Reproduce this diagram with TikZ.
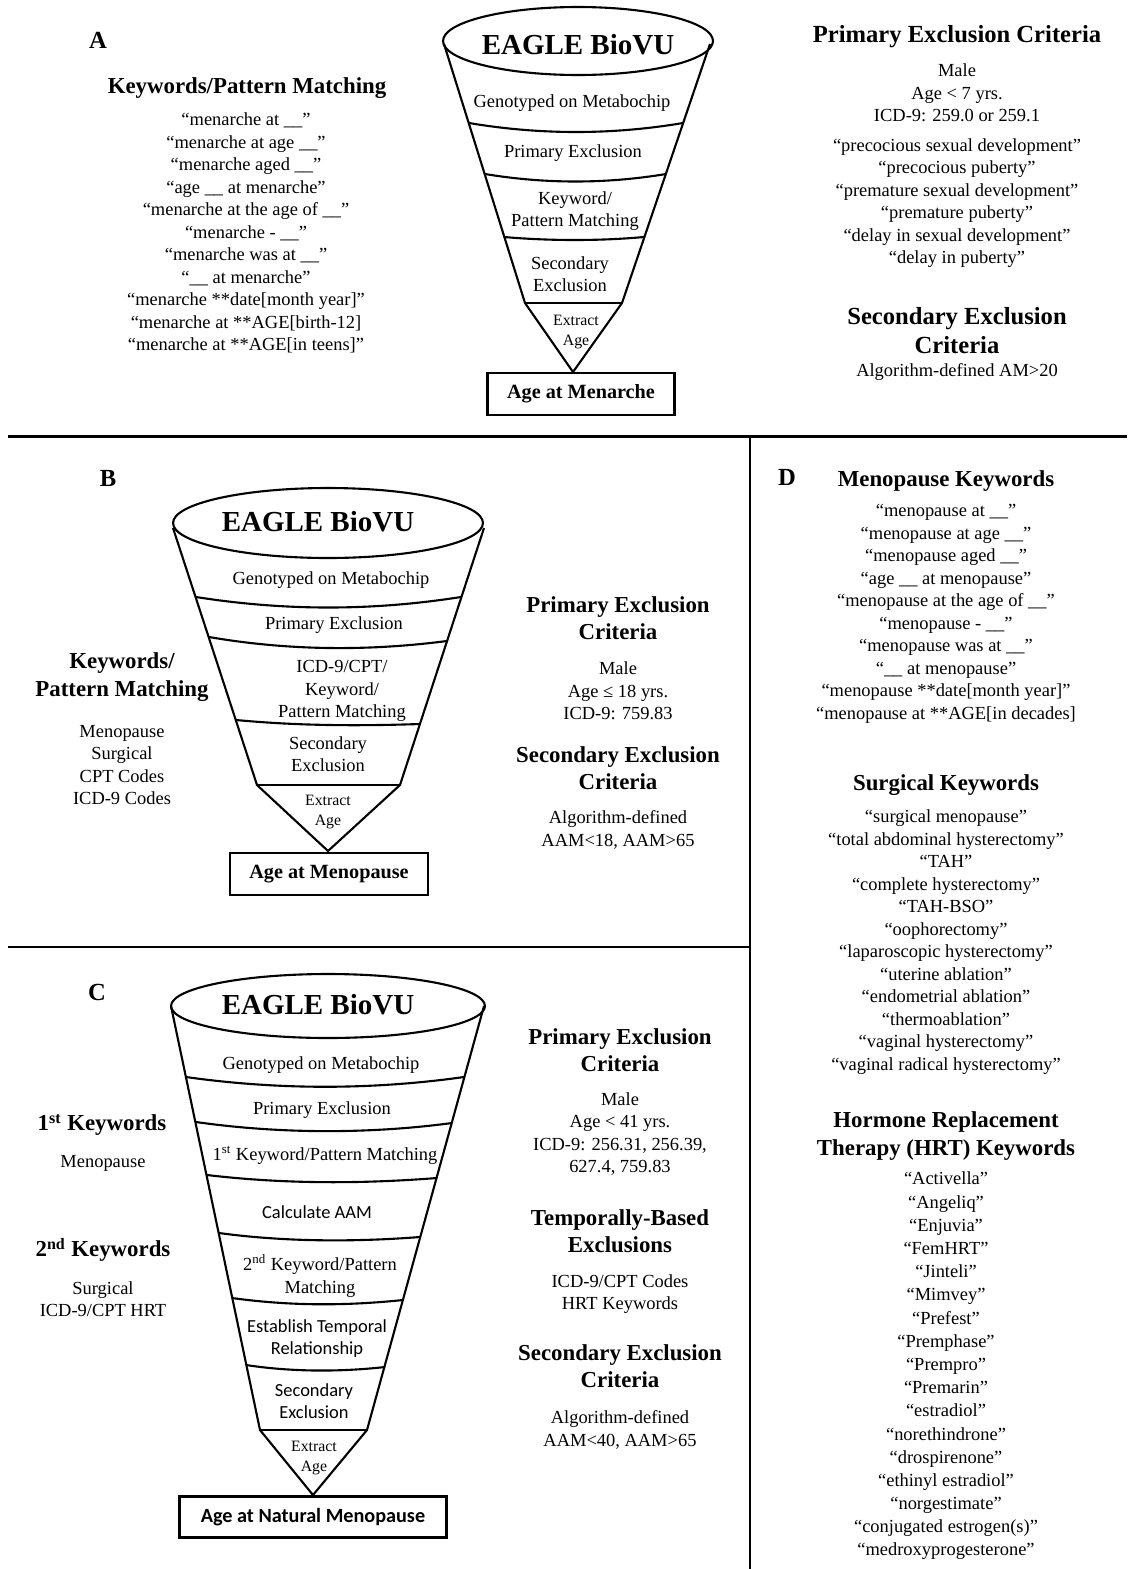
\documentclass[tikz,border=0pt]{standalone}
\usepackage{fontspec}
\setmainfont{Liberation Serif}
\newfontfamily\calib{Carlito}
\tikzset{
  kwtext/.style={align=center,inner sep=0pt,font=\fontsize{10.5}{12.8}\selectfont},
  kwhead/.style={align=center,inner sep=0pt,font=\fontsize{13}{15.5}\selectfont\bfseries},
  kwbighead/.style={align=center,inner sep=0pt,font=\fontsize{14}{16.5}\selectfont\bfseries},
  panellabel/.style={inner sep=0pt,font=\fontsize{14}{16}\selectfont\bfseries},
  brand/.style={inner sep=0pt,font=\fontsize{16.5}{18}\selectfont\bfseries},
  stagesm/.style={align=center,inner sep=0pt,font=\fontsize{9}{11.3}\selectfont},
  stagesans/.style={align=center,inner sep=0pt,font=\calib\fontsize{10.5}{12.5}\selectfont},
  outcome/.style={draw,line width=1.6pt,minimum height=0.84cm,inner sep=0pt,font=\fontsize{11.5}{13}\selectfont\bfseries},
  funnel/.style={line width=1.2pt,line join=round}
}
\begin{document}
\begin{tikzpicture}[x=0.02cm,y=-0.02cm]
  \useasboundingbox (0,0) rectangle (1127,1569);
  \draw [line width=1.7pt] (8,436) -- (1127,436);
  \draw [line width=1.4pt] (750,436) -- (750,1569);
  \draw [line width=1.4pt] (8,947) -- (750,947);

  % A
  \node [panellabel] (labA) at (98,40) {A};
  \draw [funnel] (578,41) ellipse [x radius=2.7cm, y radius=0.68cm];
  \draw [funnel] (444,44) -- (525,303) -- (573,372) -- (622,303) -- (710,44);
  \draw [funnel] (469,123) .. controls (540,135) and (612,135) .. (683,123);
  \draw [funnel] (485,174) .. controls (545,184) and (606,184) .. (666,174);
  \draw [funnel] (504,237) .. controls (550,241) and (600,241) .. (644,237);
  \draw [funnel] (525,303) -- (622,303);
  \node [brand] (brandA) at (578,45) {EAGLE BioVU};
  \node [kwtext] (genoA) at (572,103) {Genotyped on Metabochip};
  \node [kwtext] (primA) at (573,153) {Primary Exclusion};
  \node [kwtext] (kwA) at (575,211) {Keyword/\\Pattern Matching};
  \node [kwtext] (secA) at (570,274) {Secondary\\Exclusion};
  \node [stagesm] (extA) at (576,332) {Extract\\Age};
  \node [outcome, minimum width=3.74cm] (menarche) at (581,394) {Age at Menarche};
  \node [kwhead] (kwheadA) at (247,88) {Keywords/Pattern Matching};
  \node [kwtext] (kwlistA) at (246,233) {“menarche at \_\_”\\“menarche at age \_\_”\\“menarche aged \_\_”\\“age \_\_ at menarche”\\“menarche at the age of \_\_”\\“menarche - \_\_”\\“menarche was at \_\_”\\“\_\_ at menarche”\\“menarche **date[month year]”\\“menarche at **AGE[birth-12]\\“menarche at **AGE[in teens]”};
  \node [kwbighead] (primheadA) at (957,37) {Primary Exclusion Criteria};
  \node [kwtext] (primlistA) at (957,93) {Male\\Age < 7 yrs.\\ICD-9: 259.0 or 259.1};
  \node [kwtext] (primkwA) at (957,203) {“precocious sexual development”\\“precocious puberty”\\“premature sexual development”\\“premature puberty”\\“delay in sexual development”\\“delay in puberty”};
  \node [kwbighead] (secheadA) at (957,331) {Secondary Exclusion\\Criteria};
  \node [kwtext] (seclistA) at (957,372) {Algorithm-defined AM>20};

  % B
  \node [panellabel] (labB) at (108,478) {B};
  \draw [funnel] (328,523) ellipse [x radius=3.1cm, y radius=0.7cm];
  \draw [funnel] (173,528) -- (257,785) -- (328,851) -- (400,785) -- (484,528);
  \draw [funnel] (196,597) .. controls (285,611) and (372,611) .. (461,597);
  \draw [funnel] (209,637) .. controls (290,651) and (370,651) .. (447,641);
  \draw [funnel] (236,720) .. controls (300,726) and (360,726) .. (420,724);
  \draw [funnel] (257,785) -- (400,785);
  \node [brand] (brandB) at (318,522) {EAGLE BioVU};
  \node [kwtext] (genoB) at (331,580) {Genotyped on Metabochip};
  \node [kwtext] (primB) at (334,625) {Primary Exclusion};
  \node [kwtext] (kwB) at (342,691) {ICD-9/CPT/\\Keyword/\\Pattern Matching};
  \node [kwtext] (secB) at (328,754) {Secondary\\Exclusion};
  \node [stagesm] (extB) at (328,812) {Extract\\Age};
  \node [outcome, minimum width=3.96cm] (menopause) at (329,874) {Age at Menopause};
  \node [kwhead] (kwheadB) at (122,677) {Keywords/\\Pattern Matching};
  \node [kwtext] (kwlistB) at (122,765) {Menopause\\Surgical\\CPT Codes\\ICD-9 Codes};
  \node [kwhead] (primheadB) at (618,618) {Primary Exclusion\\Criteria};
  \node [kwtext] (primlistB) at (618,691) {Male\\Age ≤ 18 yrs.\\ICD-9: 759.83};
  \node [kwhead] (secheadB) at (618,768) {Secondary Exclusion\\Criteria};
  \node [kwtext] (seclistB) at (618,830) {Algorithm-defined\\AAM<18, AAM>65};

  % C
  \node [panellabel] (labC) at (97,992) {C};
  \draw [funnel] (328,1006) ellipse [x radius=3.14cm, y radius=0.64cm];
  \draw [funnel] (171,1006) -- (260,1430) -- (313,1495) -- (367,1430) -- (484,1006);
  \draw [funnel] (186,1077) .. controls (278,1090) and (372,1090) .. (464,1077);
  \draw [funnel] (196,1122) .. controls (280,1134) and (370,1134) .. (452,1123);
  \draw [funnel] (207,1175) .. controls (283,1184) and (360,1184) .. (437,1178);
  \draw [funnel] (219,1233) .. controls (285,1242) and (355,1242) .. (420,1237);
  \draw [funnel] (232,1298) .. controls (290,1306) and (345,1306) .. (403,1300);
  \draw [funnel] (246,1365) .. controls (292,1372) and (340,1372) .. (385,1367);
  \draw [funnel] (260,1430) -- (367,1430);
  \node [brand] (brandC) at (318,1005) {EAGLE BioVU};
  \node [kwtext] (genoC) at (321,1065) {Genotyped on Metabochip};
  \node [kwtext] (primC) at (322,1110) {Primary Exclusion};
  \node [kwtext] (kw1C) at (325,1155) {1\textsuperscript{st} Keyword/Pattern Matching};
  \node [stagesans] (calcC) at (317,1212) {Calculate AAM};
  \node [kwtext] (kw2C) at (320,1276) {2\textsuperscript{nd} Keyword/Pattern\\Matching};
  \node [stagesans] (tempC) at (317,1339) {Establish Temporal\\Relationship};
  \node [stagesans] (secC) at (314,1401) {Secondary\\Exclusion};
  \node [stagesm] (extC) at (314,1458) {Extract\\Age};
  \node [outcome, minimum width=5.34cm, minimum height=0.82cm, font=\calib\fontsize{11.5}{13}\selectfont\bfseries] (natural) at (313,1517) {Age at Natural Menopause};
  \node [kwhead] (kw1headC) at (102,1125) {1\textsuperscript{st} Keywords};
  \node [kwtext] (kw1listC) at (103,1163) {Menopause};
  \node [kwhead] (kw2headC) at (103,1250) {2\textsuperscript{nd} Keywords};
  \node [kwtext] (kw2listC) at (103,1299) {Surgical\\ICD-9/CPT HRT};
  \node [kwhead] (primheadC) at (620,1050) {Primary Exclusion\\Criteria};
  \node [kwtext] (primlistC) at (620,1134) {Male\\Age < 41 yrs.\\ICD-9: 256.31, 256.39,\\627.4, 759.83};
  \node [kwhead] (tempheadC) at (620,1231) {Temporally-Based\\Exclusions};
  \node [kwtext] (templistC) at (620,1294) {ICD-9/CPT Codes\\HRT Keywords};
  \node [kwhead] (secheadC) at (620,1366) {Secondary Exclusion\\Criteria};
  \node [kwtext] (seclistC) at (620,1430) {Algorithm-defined\\AAM<40, AAM>65};

  % D
  \node [panellabel] (labD) at (787,477) {D};
  \node [kwhead] (menoheadD) at (946,481) {Menopause Keywords};
  \node [kwtext] (menolistD) at (946,614) {“menopause at \_\_”\\“menopause at age \_\_”\\“menopause aged \_\_”\\“age \_\_ at menopause”\\“menopause at the age of \_\_”\\“menopause - \_\_”\\“menopause was at \_\_”\\“\_\_ at menopause”\\“menopause **date[month year]”\\“menopause at **AGE[in decades]};
  \node [kwhead] (surgheadD) at (946,785) {Surgical Keywords};
  \node [kwtext] (surglistD) at (946,942) {“surgical menopause”\\“total abdominal hysterectomy”\\“TAH”\\“complete hysterectomy”\\“TAH-BSO”\\“oophorectomy”\\“laparoscopic hysterectomy”\\“uterine ablation”\\“endometrial ablation”\\“thermoablation”\\“vaginal hysterectomy”\\“vaginal radical hysterectomy”};
  \node [kwhead] (hrtheadD) at (946,1136) {Hormone Replacement\\Therapy (HRT) Keywords};
  \node [kwtext, font=\fontsize{10.5}{13.2}\selectfont] (hrtlistD) at (946,1366) {“Activella”\\“Angeliq”\\“Enjuvia”\\“FemHRT”\\“Jinteli”\\“Mimvey”\\“Prefest”\\“Premphase”\\“Prempro”\\“Premarin”\\“estradiol”\\“norethindrone”\\“drospirenone”\\“ethinyl estradiol”\\“norgestimate”\\“conjugated estrogen(s)”\\“medroxyprogesterone”};
\end{tikzpicture}
\end{document}
